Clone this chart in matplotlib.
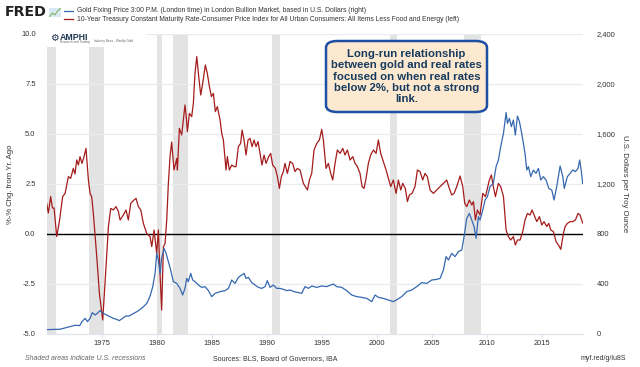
import numpy as np
import matplotlib
matplotlib.use("Agg")
import matplotlib.pyplot as plt
from matplotlib.patches import FancyBboxPatch, Rectangle

plt.rcParams["font.family"] = ["Liberation Sans", "DejaVu Sans"]

# ── data ──
real_years = [1970.0, 1970.15, 1970.36, 1970.52, 1970.67, 1970.91, 1971.15, 1971.45, 1971.67, 1971.97,
              1972.18, 1972.42, 1972.57, 1972.73, 1972.88, 1973.03, 1973.21, 1973.39, 1973.57, 1973.79,
              1973.94, 1974.09, 1974.24, 1974.55, 1974.79, 1975.09, 1975.3, 1975.61, 1975.82, 1976.06,
              1976.3, 1976.52, 1976.67, 1976.97, 1977.21, 1977.42, 1977.64, 1977.94, 1978.12, 1978.33,
              1978.55, 1978.79, 1979.09, 1979.39, 1979.55, 1979.76, 1980.0, 1980.15, 1980.3, 1980.45,
              1980.61, 1980.76, 1980.91, 1981.06, 1981.21, 1981.36, 1981.57, 1981.82, 1981.88, 1982.06,
              1982.27, 1982.57, 1982.67, 1982.79, 1982.97, 1983.18, 1983.33, 1983.48, 1983.64, 1983.82,
              1984.0, 1984.18, 1984.42, 1984.6, 1984.79, 1984.97, 1985.15, 1985.33, 1985.51, 1985.76,
              1985.91, 1986.06, 1986.3, 1986.42, 1986.6, 1986.82, 1987.03, 1987.21, 1987.42, 1987.63,
              1987.76, 1987.94, 1988.12, 1988.3, 1988.48, 1988.67, 1988.85, 1989.03, 1989.21, 1989.39,
              1989.57, 1989.76, 1989.94, 1990.18, 1990.36, 1990.54, 1990.79, 1990.97, 1991.15, 1991.33,
              1991.51, 1991.66, 1991.88, 1992.12, 1992.36, 1992.57, 1992.79, 1993.03, 1993.33, 1993.7,
              1993.88, 1994.09, 1994.3, 1994.55, 1994.79, 1995.0, 1995.15, 1995.39, 1995.6, 1995.82,
              1996.0, 1996.21, 1996.42, 1996.67, 1996.91, 1997.12, 1997.33, 1997.58, 1997.82, 1998.03,
              1998.24, 1998.48, 1998.67, 1998.85, 1999.03, 1999.24, 1999.45, 1999.7, 1999.94, 2000.15,
              2000.36, 2000.6, 2000.85, 2001.06, 2001.27, 2001.51, 2001.76, 2001.97, 2002.18, 2002.36,
              2002.6, 2002.79, 2002.97, 2003.21, 2003.48, 2003.7, 2003.94, 2004.18, 2004.39, 2004.6,
              2004.85, 2005.15, 2005.45, 2005.76, 2006.06, 2006.36, 2006.6, 2006.82, 2007.03, 2007.27,
              2007.58, 2007.82, 2008.0, 2008.18, 2008.42, 2008.64, 2008.79, 2008.97, 2009.15, 2009.39,
              2009.64, 2009.88, 2010.06, 2010.24, 2010.42, 2010.6, 2010.79, 2011.06, 2011.27, 2011.52,
              2011.76, 2011.97, 2012.18, 2012.42, 2012.6, 2012.79, 2013.03, 2013.27, 2013.48, 2013.7,
              2013.94, 2014.12, 2014.36, 2014.55, 2014.79, 2015.0, 2015.21, 2015.45, 2015.64, 2015.82,
              2016.06, 2016.3, 2016.52, 2016.73, 2016.97, 2017.12, 2017.33, 2017.58, 2017.82, 2018.06,
              2018.3, 2018.48, 2018.6, 2018.72]
real_rate = [1.53, 1.05, 1.87, 1.3, 1.3, -0.13, 0.62, 1.87, 2.03, 2.87,
             2.78, 3.28, 3.0, 3.7, 3.45, 3.87, 3.53, 3.87, 4.28, 2.7,
             2.03, 1.87, 1.03, -1.13, -2.97, -4.3, -2.47, 0.37, 1.28, 1.2,
             1.37, 1.12, 0.7, 0.95, 1.2, 0.7, 1.53, 1.7, 1.78, 1.37,
             1.2, 0.53, 0.03, -0.13, -0.63, 0.2, -0.97, 0.2, -1.97, -3.8,
             -0.63, -0.47, 0.7, 2.53, 3.87, 4.6, 3.2, 3.78, 3.2, 5.28,
             4.95, 6.45, 5.95, 5.12, 6.03, 5.87, 6.53, 8.03, 8.87, 7.87,
             6.95, 7.53, 8.45, 8.03, 7.37, 6.87, 7.03, 6.12, 6.37, 5.7,
             5.03, 4.7, 3.2, 3.87, 3.2, 3.45, 3.37, 3.37, 4.37, 4.53,
             5.2, 4.7, 3.95, 4.7, 4.78, 4.37, 4.7, 4.37, 4.62, 4.03,
             3.45, 3.95, 3.53, 3.87, 4.03, 3.45, 3.28, 2.87, 2.28, 2.87,
             3.12, 3.53, 3.03, 3.62, 3.53, 3.12, 3.28, 3.2, 2.53, 2.2,
             2.7, 3.03, 4.2, 4.53, 4.7, 5.23, 4.7, 3.28, 3.53, 3.03,
             2.7, 3.53, 4.2, 4.03, 4.28, 3.95, 4.2, 3.7, 3.87, 3.53,
             3.37, 3.03, 2.37, 2.28, 2.78, 3.53, 3.95, 4.2, 4.03, 4.7,
             4.03, 3.62, 3.2, 2.78, 2.37, 2.7, 2.03, 2.7, 2.2, 2.53,
             2.28, 1.62, 1.95, 2.03, 2.37, 3.2, 3.12, 2.7, 3.03, 2.87,
             2.2, 2.03, 2.2, 2.37, 2.53, 2.7, 2.28, 1.95, 2.03, 2.37,
             2.9, 2.37, 1.53, 1.37, 1.7, 1.45, 1.62, 0.7, 1.2, 0.95,
             2.03, 1.87, 2.28, 2.7, 2.95, 2.37, 1.87, 2.53, 2.37, 1.87,
             0.2, -0.13, -0.3, -0.13, -0.55, -0.3, -0.3, 0.12, 0.7, 1.03,
             0.95, 1.2, 0.87, 0.62, 0.87, 0.45, 0.62, 0.37, 0.53, 0.2,
             0.12, -0.38, -0.55, -0.77, 0.03, 0.37, 0.53, 0.62, 0.62, 0.7,
             1.03, 0.95, 0.75, 0.55]

gold_years = [1970.0, 1971.2, 1972.1, 1972.6, 1973.0, 1973.2, 1973.5, 1973.7, 1973.94, 1974.15,
              1974.4, 1974.6, 1974.85, 1975.15, 1975.45, 1975.76, 1976.06, 1976.36, 1976.6, 1976.9,
              1977.2, 1977.5, 1977.8, 1978.2, 1978.5, 1978.8, 1979.1, 1979.4, 1979.64, 1979.85,
              1980.0, 1980.15, 1980.3, 1980.45, 1980.67, 1980.85, 1981.06, 1981.27, 1981.51, 1981.82,
              1982.12, 1982.36, 1982.57, 1982.73, 1982.88, 1983.09, 1983.27, 1983.48, 1983.79, 1984.09,
              1984.39, 1984.7, 1985.0, 1985.3, 1985.76, 1986.21, 1986.52, 1986.82, 1987.12, 1987.42,
              1987.73, 1987.94, 1988.12, 1988.33, 1988.64, 1988.94, 1989.24, 1989.55, 1989.85, 1990.06,
              1990.3, 1990.6, 1990.91, 1991.21, 1991.51, 1991.82, 1992.12, 1992.48, 1992.88, 1993.18,
              1993.48, 1993.79, 1994.09, 1994.55, 1995.0, 1995.45, 1996.06, 1996.36, 1996.82, 1997.27,
              1997.73, 1998.18, 1998.64, 1999.09, 1999.55, 1999.85, 2000.15, 2000.6, 2001.06, 2001.51,
              2001.88, 2002.27, 2002.73, 2003.18, 2003.64, 2004.09, 2004.55, 2005.0, 2005.45, 2005.76,
              2006.06, 2006.3, 2006.52, 2006.82, 2007.12, 2007.42, 2007.73, 2007.94, 2008.18, 2008.42,
              2008.64, 2008.85, 2009.03, 2009.24, 2009.39, 2009.64, 2009.85, 2010.06, 2010.3, 2010.6,
              2010.85, 2011.06, 2011.27, 2011.52, 2011.76, 2011.88, 2012.06, 2012.24, 2012.42, 2012.6,
              2012.79, 2012.97, 2013.18, 2013.48, 2013.64, 2013.79, 2014.0, 2014.24, 2014.48, 2014.7,
              2014.91, 2015.15, 2015.39, 2015.64, 2015.91, 2016.12, 2016.36, 2016.67, 2016.91, 2017.05,
              2017.33, 2017.58, 2017.82, 2018.06, 2018.3, 2018.45, 2018.6, 2018.72]
gold_price = [35, 38, 58, 70, 67, 99, 125, 99, 125, 171,
              152, 165, 187, 165, 152, 139, 125, 117, 107, 125,
              144, 144, 160, 179, 197, 219, 245, 304, 379, 485,
              645, 592, 485, 605, 685, 645, 579, 512, 419, 405,
              365, 312, 365, 445, 419, 485, 432, 419, 392, 373,
              379, 347, 299, 325, 339, 347, 365, 432, 405, 453,
              472, 485, 445, 453, 411, 392, 373, 365, 379, 427,
              373, 392, 365, 365, 357, 347, 352, 339, 331, 325,
              379, 365, 384, 373, 384, 379, 400, 379, 373, 347,
              312, 299, 293, 285, 259, 312, 293, 285, 272, 259,
              277, 299, 339, 352, 379, 411, 405, 432, 437, 445,
              512, 619, 592, 645, 619, 659, 672, 779, 925, 965,
              912, 859, 765, 939, 912, 992, 1072, 1099, 1179, 1205,
              1339, 1392, 1499, 1605, 1771, 1685, 1725, 1659, 1712, 1592,
              1744, 1699, 1605, 1445, 1312, 1339, 1259, 1312, 1285, 1325,
              1232, 1259, 1232, 1165, 1152, 1072, 1179, 1344, 1259, 1165,
              1259, 1285, 1312, 1299, 1325, 1392, 1300, 1205]

recessions = [(1969.92, 1970.87), (1973.87, 1975.2), (1980.0, 1980.5), (1981.5, 1982.87),
              (1990.5, 1991.2), (2001.2, 2001.87), (2007.92, 2009.45)]

left_ticks = [-5.0, -2.5, 0.0, 2.5, 5.0, 7.5, 10.0]
right_ticks = [0, 400, 800, 1200, 1600, 2000, 2400]
year_ticks = [1975, 1980, 1985, 1990, 1995, 2000, 2005, 2010, 2015]

RED = "#a51c1c"
BLUE = "#3568b0"
GRID = "#e8ebf1"
W, H = 640, 367


def fx(x):
    return x / W


def fy(y):
    return 1 - y / H


fig = plt.figure(figsize=(6.4, 3.67), dpi=100)
ax = fig.add_axes([fx(46.7), fy(334), fx(583) - fx(46.7), fy(34) - fy(334)])
ax.set_xlim(1970.0, 2018.75)
ax.set_ylim(-5, 10)

for a, b in recessions:
    ax.axvspan(max(a, 1970.0), b, color="#e3e3e3", lw=0, zorder=0)
for t in left_ticks[1:]:
    ax.axhline(t, color=GRID, lw=0.9, zorder=0.5)
ax.axhline(0, color="black", lw=1.0, zorder=3)

for s in ax.spines.values():
    s.set_visible(False)
ax.spines["bottom"].set_visible(True)
ax.spines["bottom"].set_color("#e0e4ec")
ax.spines["bottom"].set_linewidth(0.9)

ax.set_yticks(left_ticks)
ax.set_yticklabels([f"{t:.1f}" for t in left_ticks], fontsize=5.4, color="#333333")
ax.tick_params(axis="y", length=0, pad=8)
ax.set_xticks(year_ticks)
ax.set_xticklabels([str(y) for y in year_ticks], fontsize=5.4, color="#333333")
ax.tick_params(axis="x", length=3, color="#e0e4ec", pad=1.5)
ax.set_ylabel("%-% Chg. from Yr. Ago", fontsize=5.6, color="#333333", labelpad=5)

ax.plot(real_years, real_rate, color=RED, lw=0.9, zorder=4)

ax2 = ax.twinx()
ax2.set_ylim(0, 2400)
ax2.set_yticks(right_ticks)
ax2.set_yticklabels([f"{t:,}" for t in right_ticks], fontsize=5.4, color="#333333")
ax2.tick_params(axis="y", length=0, pad=10)
for s in ax2.spines.values():
    s.set_visible(False)
ax2.set_ylabel("U.S. Dollars per Troy Ounce", fontsize=5.6, color="#333333",
               rotation=270, labelpad=9)
ax2.plot(gold_years, gold_price, color=BLUE, lw=0.9, zorder=4)

# AMPHI logo strip
fig.patches.append(Rectangle((fx(46.7), fy(47)), fx(146) - fx(46.7), fy(33) - fy(47),
                             transform=fig.transFigure, facecolor="white", edgecolor="none", zorder=5))
fig.text(fx(50), fy(38), "\u2699", fontsize=7, color="#1f3550", va="center",
         family=["DejaVu Sans"], zorder=8)
fig.text(fx(60), fy(37.5), "AMPHI", fontsize=6.3, fontweight="bold", color="#1f3550",
         va="center", zorder=8)
fig.text(fx(60), fy(42.5), "Research and Trading", fontsize=2.2, color="#666666",
         va="center", zorder=8)
fig.text(fx(94), fy(41), "Industry News - Weekly Gold", fontsize=2.2, color="#666666",
         va="center", zorder=8)

# annotation box
box = FancyBboxPatch((fx(326), fy(112)), fx(487) - fx(326), fy(41) - fy(112),
                     boxstyle="round,pad=0,rounding_size=0.018", transform=fig.transFigure,
                     facecolor="#fde9d0", edgecolor="#1d4fa3", lw=1.8, zorder=6)
fig.patches.append(box)
fig.text(fx(406.5), fy(76.5),
         "Long-run relationship\nbetween gold and real rates\nfocused on when real rates\n"
         "below 2%, but not a strong\nlink.",
         ha="center", va="center", fontsize=8.2, fontweight="bold", color="#163b5e",
         linespacing=1.15, zorder=7)

# header
fig.text(fx(4.5), fy(12.5), "FRED", fontsize=10.2, fontweight="bold", color="#222222",
         va="center", family=["DejaVu Sans"])
icon = fig.add_axes([fx(49), fy(17), fx(61) - fx(49), fy(8) - fy(17)])
icon.plot([0, 1, 2, 3, 4], [0.2, 0.5, 0.35, 0.7, 0.9], color="#7bb661", lw=0.8)
icon.set_facecolor("#dbe8f5")
icon.set_xticks([])
icon.set_yticks([])
for s in icon.spines.values():
    s.set_visible(False)
fig.lines.append(plt.Line2D([fx(64), fx(73)], [fy(10.7), fy(10.7)], color=BLUE, lw=0.9,
                            transform=fig.transFigure))
fig.lines.append(plt.Line2D([fx(64), fx(73)], [fy(19.3), fy(19.3)], color=RED, lw=0.9,
                            transform=fig.transFigure))
fig.text(fx(77), fy(10.7),
         "Gold Fixing Price 3:00 P.M. (London time) in London Bullion Market, based in U.S. Dollars (right)",
         fontsize=4.9, color="#333333", va="center")
fig.text(fx(77), fy(19.3),
         "10-Year Treasury Constant Maturity Rate-Consumer Price Index for All Urban Consumers: "
         "All Items Less Food and Energy (left)",
         fontsize=4.9, color="#333333", va="center")

# footer
fig.text(fx(25), fy(359), "Shaded areas indicate U.S. recessions", fontsize=5.0,
         style="italic", color="#666666", va="center")
fig.text(fx(213), fy(359), "Sources: BLS, Board of Governors, IBA", fontsize=5.0,
         color="#333333", va="center")
fig.text(fx(626), fy(359), "myf.red/g/lu8S", fontsize=5.0, color="#333333", va="center", ha="right")

fig.savefig("out.png", dpi=100)
